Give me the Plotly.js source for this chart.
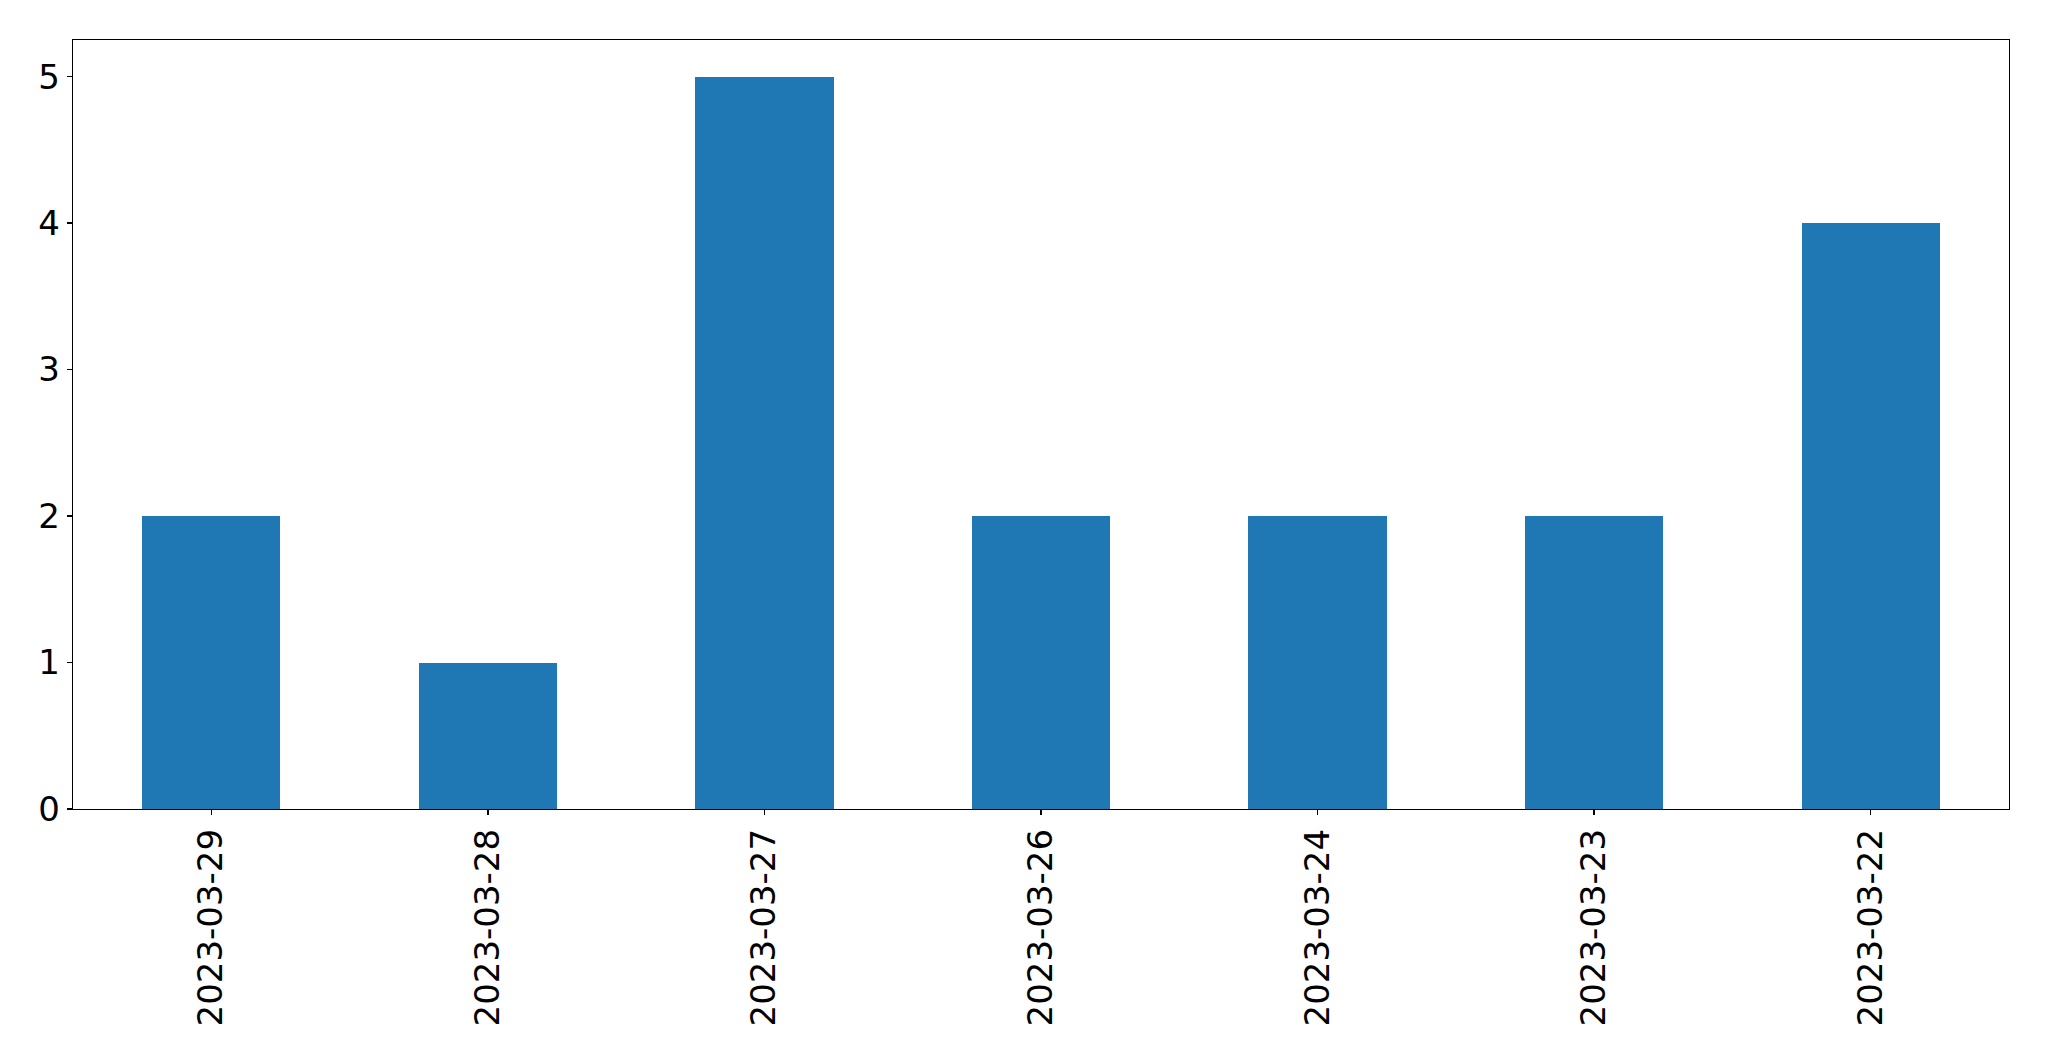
<!DOCTYPE html>
<html>
<head>
<meta charset="utf-8">
<script src="https://cdn.plot.ly/plotly-3.0.1.min.js"></script>
<style>html,body{margin:0;padding:0;background:#fff;}#chart{width:2049px;height:1061px;}</style>
</head>
<body>
<div id="chart"></div>
<script>
const categories = ["2023-03-29", "2023-03-28", "2023-03-27", "2023-03-26", "2023-03-24", "2023-03-23", "2023-03-22"];
const counts = [2, 1, 5, 2, 2, 2, 4];
const yTicks = [0, 1, 2, 3, 4, 5];

const font = {family: "DejaVu Sans", size: 34, color: "#000"};
const axisCommon = {
  showline: true, linecolor: "#000", linewidth: 1.3, mirror: true,
  ticks: "outside", ticklen: 5, tickwidth: 1.3, tickcolor: "#000",
  showgrid: false, zeroline: false, tickfont: font
};

Plotly.newPlot("chart", [{
  type: "bar", x: categories, y: counts, width: 0.5,
  marker: {color: "#1f77b4", line: {width: 0}}
}], {
  width: 2049, height: 1061,
  margin: {l: 72.5, r: 40, t: 39.5, b: 252, pad: 0},
  paper_bgcolor: "#fff", plot_bgcolor: "#fff",
  showlegend: false, bargap: 0,
  xaxis: Object.assign({}, axisCommon, {type: "category", range: [-0.5, 6.5], tickangle: -90}),
  yaxis: Object.assign({}, axisCommon, {range: [0, 5.25], tickvals: yTicks, ticktext: yTicks.map(String)})
}, {displayModeBar: false, staticPlot: true});
</script>
</body>
</html>
